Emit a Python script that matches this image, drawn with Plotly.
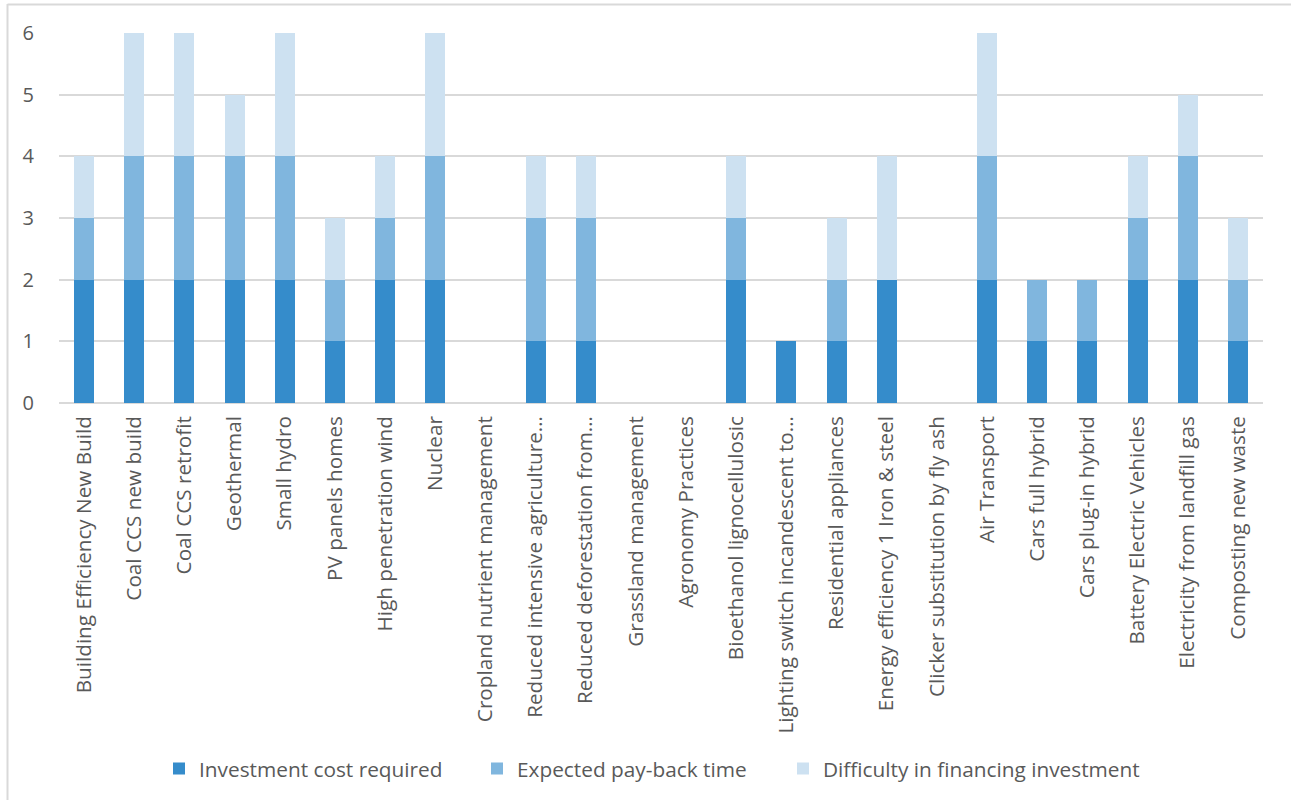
import plotly.graph_objects as go

categories = [
    "Building Efficiency New Build",
    "Coal CCS new build",
    "Coal CCS retrofit",
    "Geothermal",
    "Small hydro",
    "PV panels homes",
    "High penetration wind",
    "Nuclear",
    "Cropland nutrient management",
    "Reduced intensive agriculture…",
    "Reduced deforestation from…",
    "Grassland management",
    "Agronomy Practices",
    "Bioethanol lignocellulosic",
    "Lighting switch incandescent to…",
    "Residential appliances",
    "Energy efficiency 1 Iron & steel",
    "Clicker substitution by fly ash",
    "Air Transport",
    "Cars full hybrid",
    "Cars plug-in hybrid",
    "Battery Electric Vehicles",
    "Electricity from landfill gas",
    "Composting new waste",
]

investment_cost = [2, 2, 2, 2, 2, 1, 2, 2, 0, 1, 1, 0, 0, 2, 1, 1, 2, 0, 2, 1, 1, 2, 2, 1]
payback_time    = [1, 2, 2, 2, 2, 1, 1, 2, 0, 2, 2, 0, 0, 1, 0, 1, 0, 0, 2, 1, 1, 1, 2, 1]
financing       = [1, 2, 2, 1, 2, 1, 1, 2, 0, 1, 1, 0, 0, 1, 0, 1, 2, 0, 2, 0, 0, 1, 1, 1]

series = [
    ("Investment cost required", investment_cost, "#358ccb"),
    ("Expected pay-back time", payback_time, "#80b6de"),
    ("Difficulty in financing investment", financing, "#cde1f1"),
]

W, H = 1291, 800
L, R, T, B = 59, 28, 33, 396
plot_w = W - L - R
plot_h = H - T - B


def px_x(p):
    return (p - L) / plot_w


def px_y(p):
    return (H - B - p) / plot_h


# one legend box per series so each key sits at its own spot along the bottom
legend_ids = ["legend", "legend2", "legend3"]
legend_left_px = [181, 499, 805]

fig = go.Figure()
for (name, vals, color), lid in zip(series, legend_ids):
    fig.add_trace(go.Bar(
        x=categories, y=vals, name=name, legend=lid,
        marker=dict(color=color, line=dict(width=0)),
    ))

# Light frame around the chart area (left and top edges)
frame = dict(color="#d9d9d9", width=2)
fig.add_shape(type="line", xref="paper", yref="paper",
              x0=px_x(7.5), x1=px_x(7.5), y0=px_y(4), y1=px_y(805), line=frame)
fig.add_shape(type="line", xref="paper", yref="paper",
              x0=px_x(7.5), x1=px_x(1300), y0=px_y(4.5), y1=px_y(4.5), line=frame)

legend_style = dict(
    orientation="h",
    xanchor="left",
    y=px_y(769), yanchor="middle",
    font=dict(size=20.8, color="#595959"),
    bgcolor="rgba(0,0,0,0)",
)
legends = {
    lid: dict(legend_style, x=px_x(sx - 22))
    for lid, sx in zip(legend_ids, legend_left_px)
}

fig.update_layout(
    width=W, height=H,
    margin=dict(l=L, r=R, t=T, b=B),
    barmode="stack",
    bargap=0.6,
    plot_bgcolor="white",
    paper_bgcolor="white",
    font=dict(family="Open Sans", size=20, color="#595959"),
    showlegend=True,
    xaxis=dict(
        tickangle=-90,
        showgrid=False,
        showline=False,
        ticks="",
        tickfont=dict(size=20.7, color="#595959"),
        ticklabelstandoff=8,
    ),
    yaxis=dict(
        range=[0, 6],
        dtick=1,
        showgrid=True,
        gridcolor="#d9d9d9",
        gridwidth=1.5,
        zeroline=True,
        zerolinecolor="#d9d9d9",
        zerolinewidth=1.5,
        showline=False,
        ticks="",
        tickfont=dict(size=20, color="#595959"),
        ticklabelstandoff=24,
    ),
    **legends,
)

fig.write_html("out.html")
